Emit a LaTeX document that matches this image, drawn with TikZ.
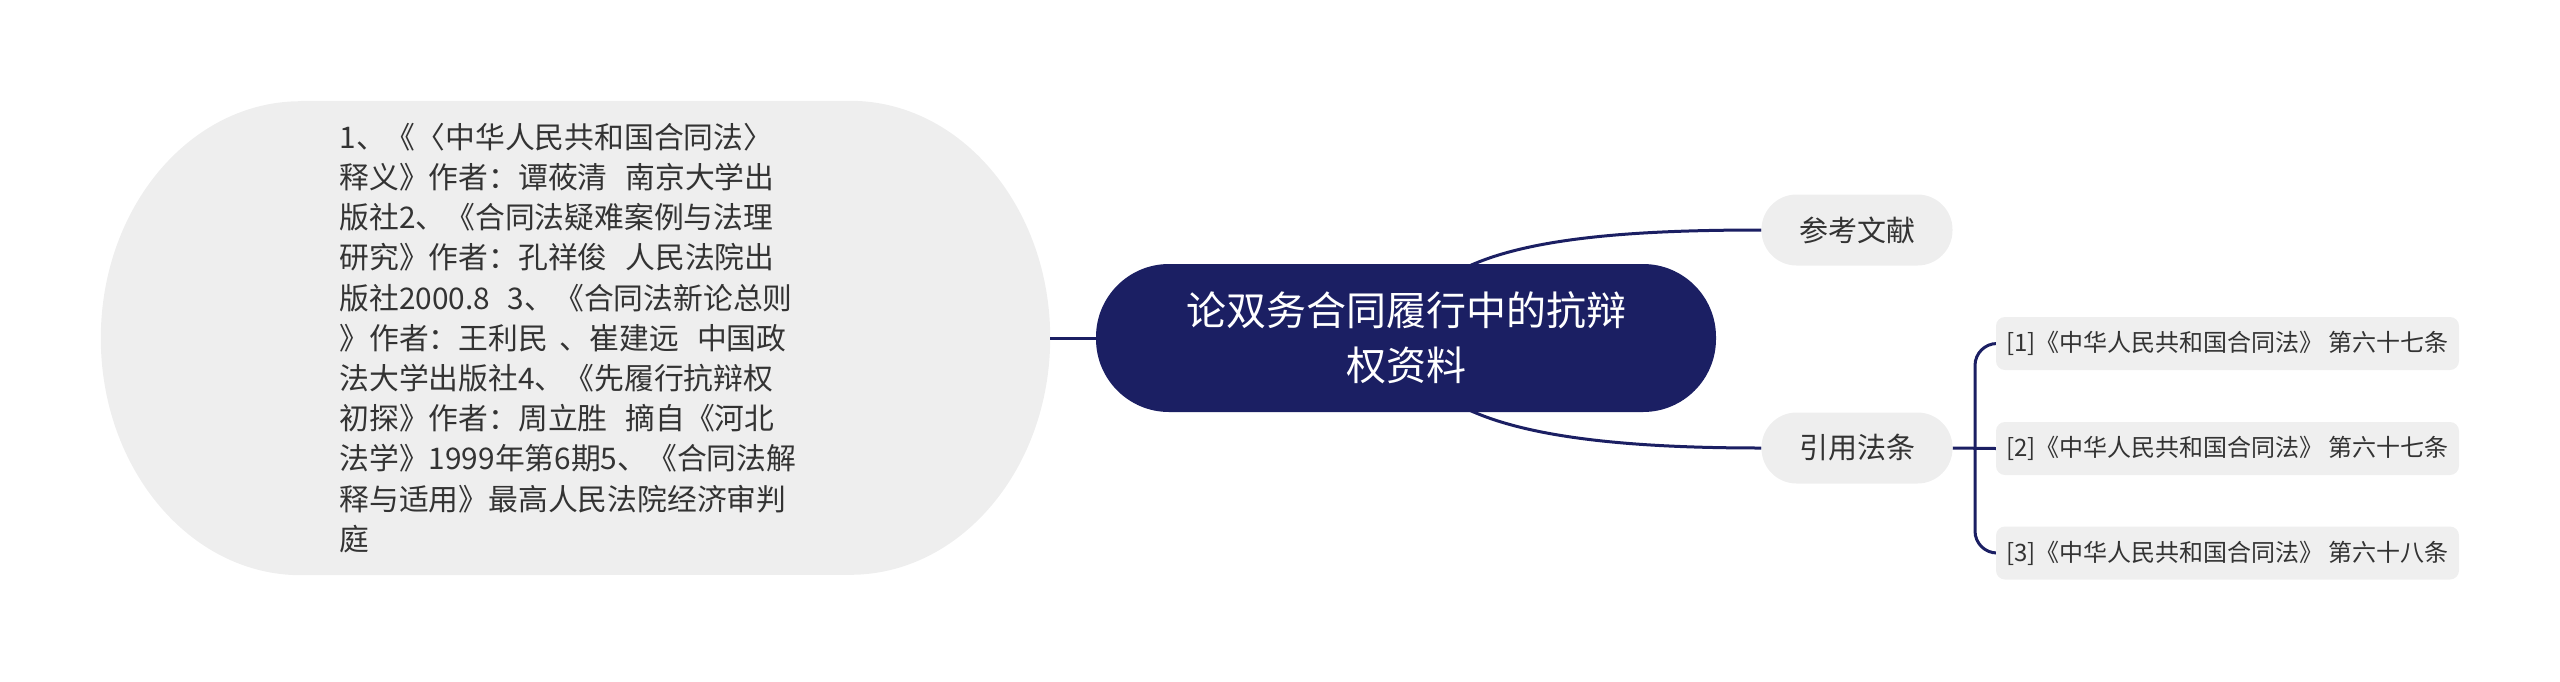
\documentclass[tikz,border=0pt]{standalone}
\usepackage{fontspec}
\setmainfont{Noto Sans CJK SC}
\usetikzlibrary{backgrounds,calc}
\definecolor{navy}{HTML}{1B1F63}
\definecolor{softgray}{HTML}{EEEEEE}
\definecolor{boxgray}{HTML}{EFEFEF}
\definecolor{ink}{HTML}{333333}
\newcommand\gapA{\hspace{0.6em}}
\newcommand\gapB{\hspace{0.4em}}
\begin{document}
\begin{tikzpicture}[x=1pt,y=1pt,
  conn/.style={draw=navy,line width=3pt},
  refbox/.style={inner sep=0pt,minimum width=949,minimum height=474,text width=472,align=left,text=ink,font=\fontsize{29.8}{40.2}\selectfont},
  mainbox/.style={fill=navy,rounded corners=73,inner sep=0pt,minimum width=620,minimum height=148,text=white,align=center,text width=480,font=\fontsize{40}{55}\selectfont},
  catbox/.style={fill=softgray,rounded corners=35,inner sep=0pt,minimum width=191,minimum height=71,text=ink,font=\fontsize{29}{35}\selectfont},
  lawbox/.style={fill=boxgray,rounded corners=9,inner sep=0pt,minimum width=463,minimum height=53,text=ink,font=\fontsize{24}{28}\selectfont}
]
\useasboundingbox (0,0) rectangle (2560,-681);

\node[refbox] (refs) at (575.5,-338) {1、《〈中华人民共和国合同法〉\\
释义》作者：谭莜清\gapA 南京大学出\\
版社2、《合同法疑难案例与法理\\
研究》作者：孔祥俊\gapA 人民法院出\\
版社2000.8\gapA 3、《合同法新论总则\\
》作者：王利民\gapB 、崔建远\gapA 中国政\\
法大学出版社4、《先履行抗辩权\\
初探》作者：周立胜\gapA 摘自《河北\\
法学》1999年第6期5、《合同法解\\
释与适用》最高人民法院经济审判\\
庭};

\node[mainbox] (main) at (1406,-338) {论双务合同履行中的抗辩\\权资料};

\node[catbox] (cankao) at (1857,-230) {参考文献};
\node[catbox] (yinyong) at (1857,-448) {引用法条};

\node[lawbox] (b1) at (2227.5,-343.5) {[1]《中华人民共和国合同法》 第六十七条};
\node[lawbox] (b2) at (2227.5,-448.5) {[2]《中华人民共和国合同法》 第六十七条};
\node[lawbox] (b3) at (2227.5,-553) {[3]《中华人民共和国合同法》 第六十八条};

\coordinate (bx) at (1975,-448);

\begin{scope}[on background layer]
\fill[softgray] ([xshift=200pt]refs.north west) -- ([xshift=-200pt]refs.north east)
  arc[start angle=90,end angle=-90,x radius=200,y radius=237]
  -- ([xshift=200pt]refs.south west)
  arc[start angle=270,end angle=90,x radius=200,y radius=237] -- cycle;
\draw[conn] (refs.east) -- (main.west);
\draw[conn] ($(main.north)+(48,-10)$) .. controls ($(main.north)+(110,26)$) and ($(cankao.west)+(-130,0)$) .. (cankao.west);
\draw[conn] ($(main.south)+(48,10)$) .. controls ($(main.south)+(110,-26)$) and ($(yinyong.west)+(-130,0)$) .. (yinyong.west);
\draw[conn] (yinyong.east) -- (b2.west);
\draw[conn,rounded corners=22] (b1.west) -| (bx) |- (b3.west);
\end{scope}
\end{tikzpicture}
\end{document}
